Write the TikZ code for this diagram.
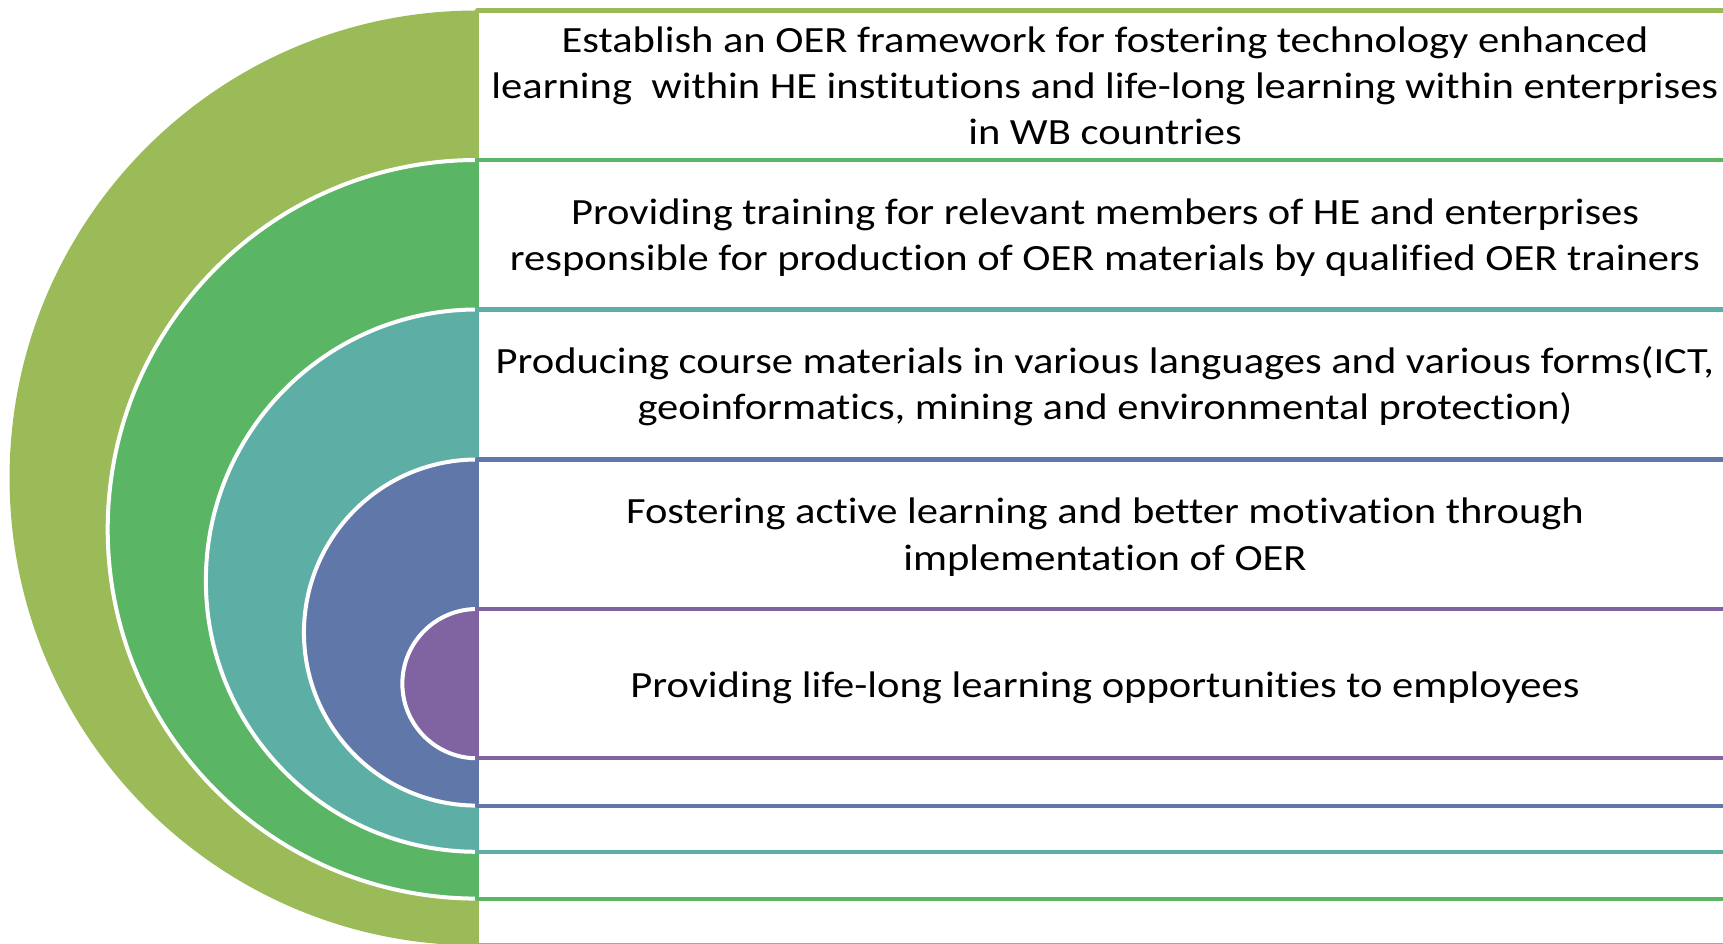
\documentclass[tikz,border=0pt]{standalone}
\usepackage{fontspec}
\setmainfont{Carlito}[FakeStretch=1.15, Ligatures=NoCommon]
\definecolor{cA}{HTML}{9BBB59}
\definecolor{cB}{HTML}{5AB565}
\definecolor{cC}{HTML}{5DAFA6}
\definecolor{cD}{HTML}{5F77A9}
\definecolor{cE}{HTML}{8064A2}
\tikzset{
  half/.style={draw=white, line width=4pt},
  boxline/.style={line width=4.2pt, line join=round},
  label/.style={align=center, font=\fontsize{37}{46.3}\selectfont, text=black, inner sep=0pt}
}
\begin{document}
\begin{tikzpicture}[x=1pt,y=1pt]
\useasboundingbox (0,0) rectangle (1723,943);
\clip (0,0) rectangle (1723,943);
% semicircles
\fill[cA] (477,932.5) arc[start angle=90,end angle=270,radius=467.45] -- cycle;
\filldraw[half, fill=cB] (477,783) arc[start angle=90,end angle=270,radius=369.3] -- cycle;
\filldraw[half, fill=cC] (477,633.5) arc[start angle=90,end angle=270,radius=271.15] -- cycle;
\filldraw[half, fill=cD] (477,483.5) arc[start angle=90,end angle=270,radius=173.05] -- cycle;
\filldraw[half, fill=cE] (477,334) arc[start angle=90,end angle=270,radius=74.65] -- cycle;
% boxes
\draw[boxline, cA] (1735,-2.4) -- (477,-2.4) -- (477,932.5) -- (1735,932.5);
\draw[boxline, cB] (1735,44.4) -- (477,44.4) -- (477,783) -- (1735,783);
\draw[boxline, cC] (1735,91.2) -- (477,91.2) -- (477,633.5) -- (1735,633.5);
\draw[boxline, cD] (1735,137.4) -- (477,137.4) -- (477,483.5) -- (1735,483.5);
\draw[boxline, cE] (1735,184.7) -- (477,184.7) -- (477,334) -- (1735,334);
% texts
\node[label] (t1) at (1105,857.2) {Establish an OER framework for fostering technology enhanced\\learning\ \ within HE institutions and life-long learning within enterprises\\in WB countries};
\node[label] (t2) at (1105,705.4) {Providing training for relevant members of HE and enterprises\\responsible for production of OER materials by qualified OER trainers};
\node[label] (t3) at (1105,556.5) {Producing course materials in various languages and various forms(ICT,\\geoinformatics, mining and environmental protection)};
\node[label] (t4) at (1105,405.9) {Fostering active learning and better motivation through\\implementation of OER};
\node[label] (t5) at (1105,255.2) {Providing life-long learning opportunities to employees};
\end{tikzpicture}
\end{document}
